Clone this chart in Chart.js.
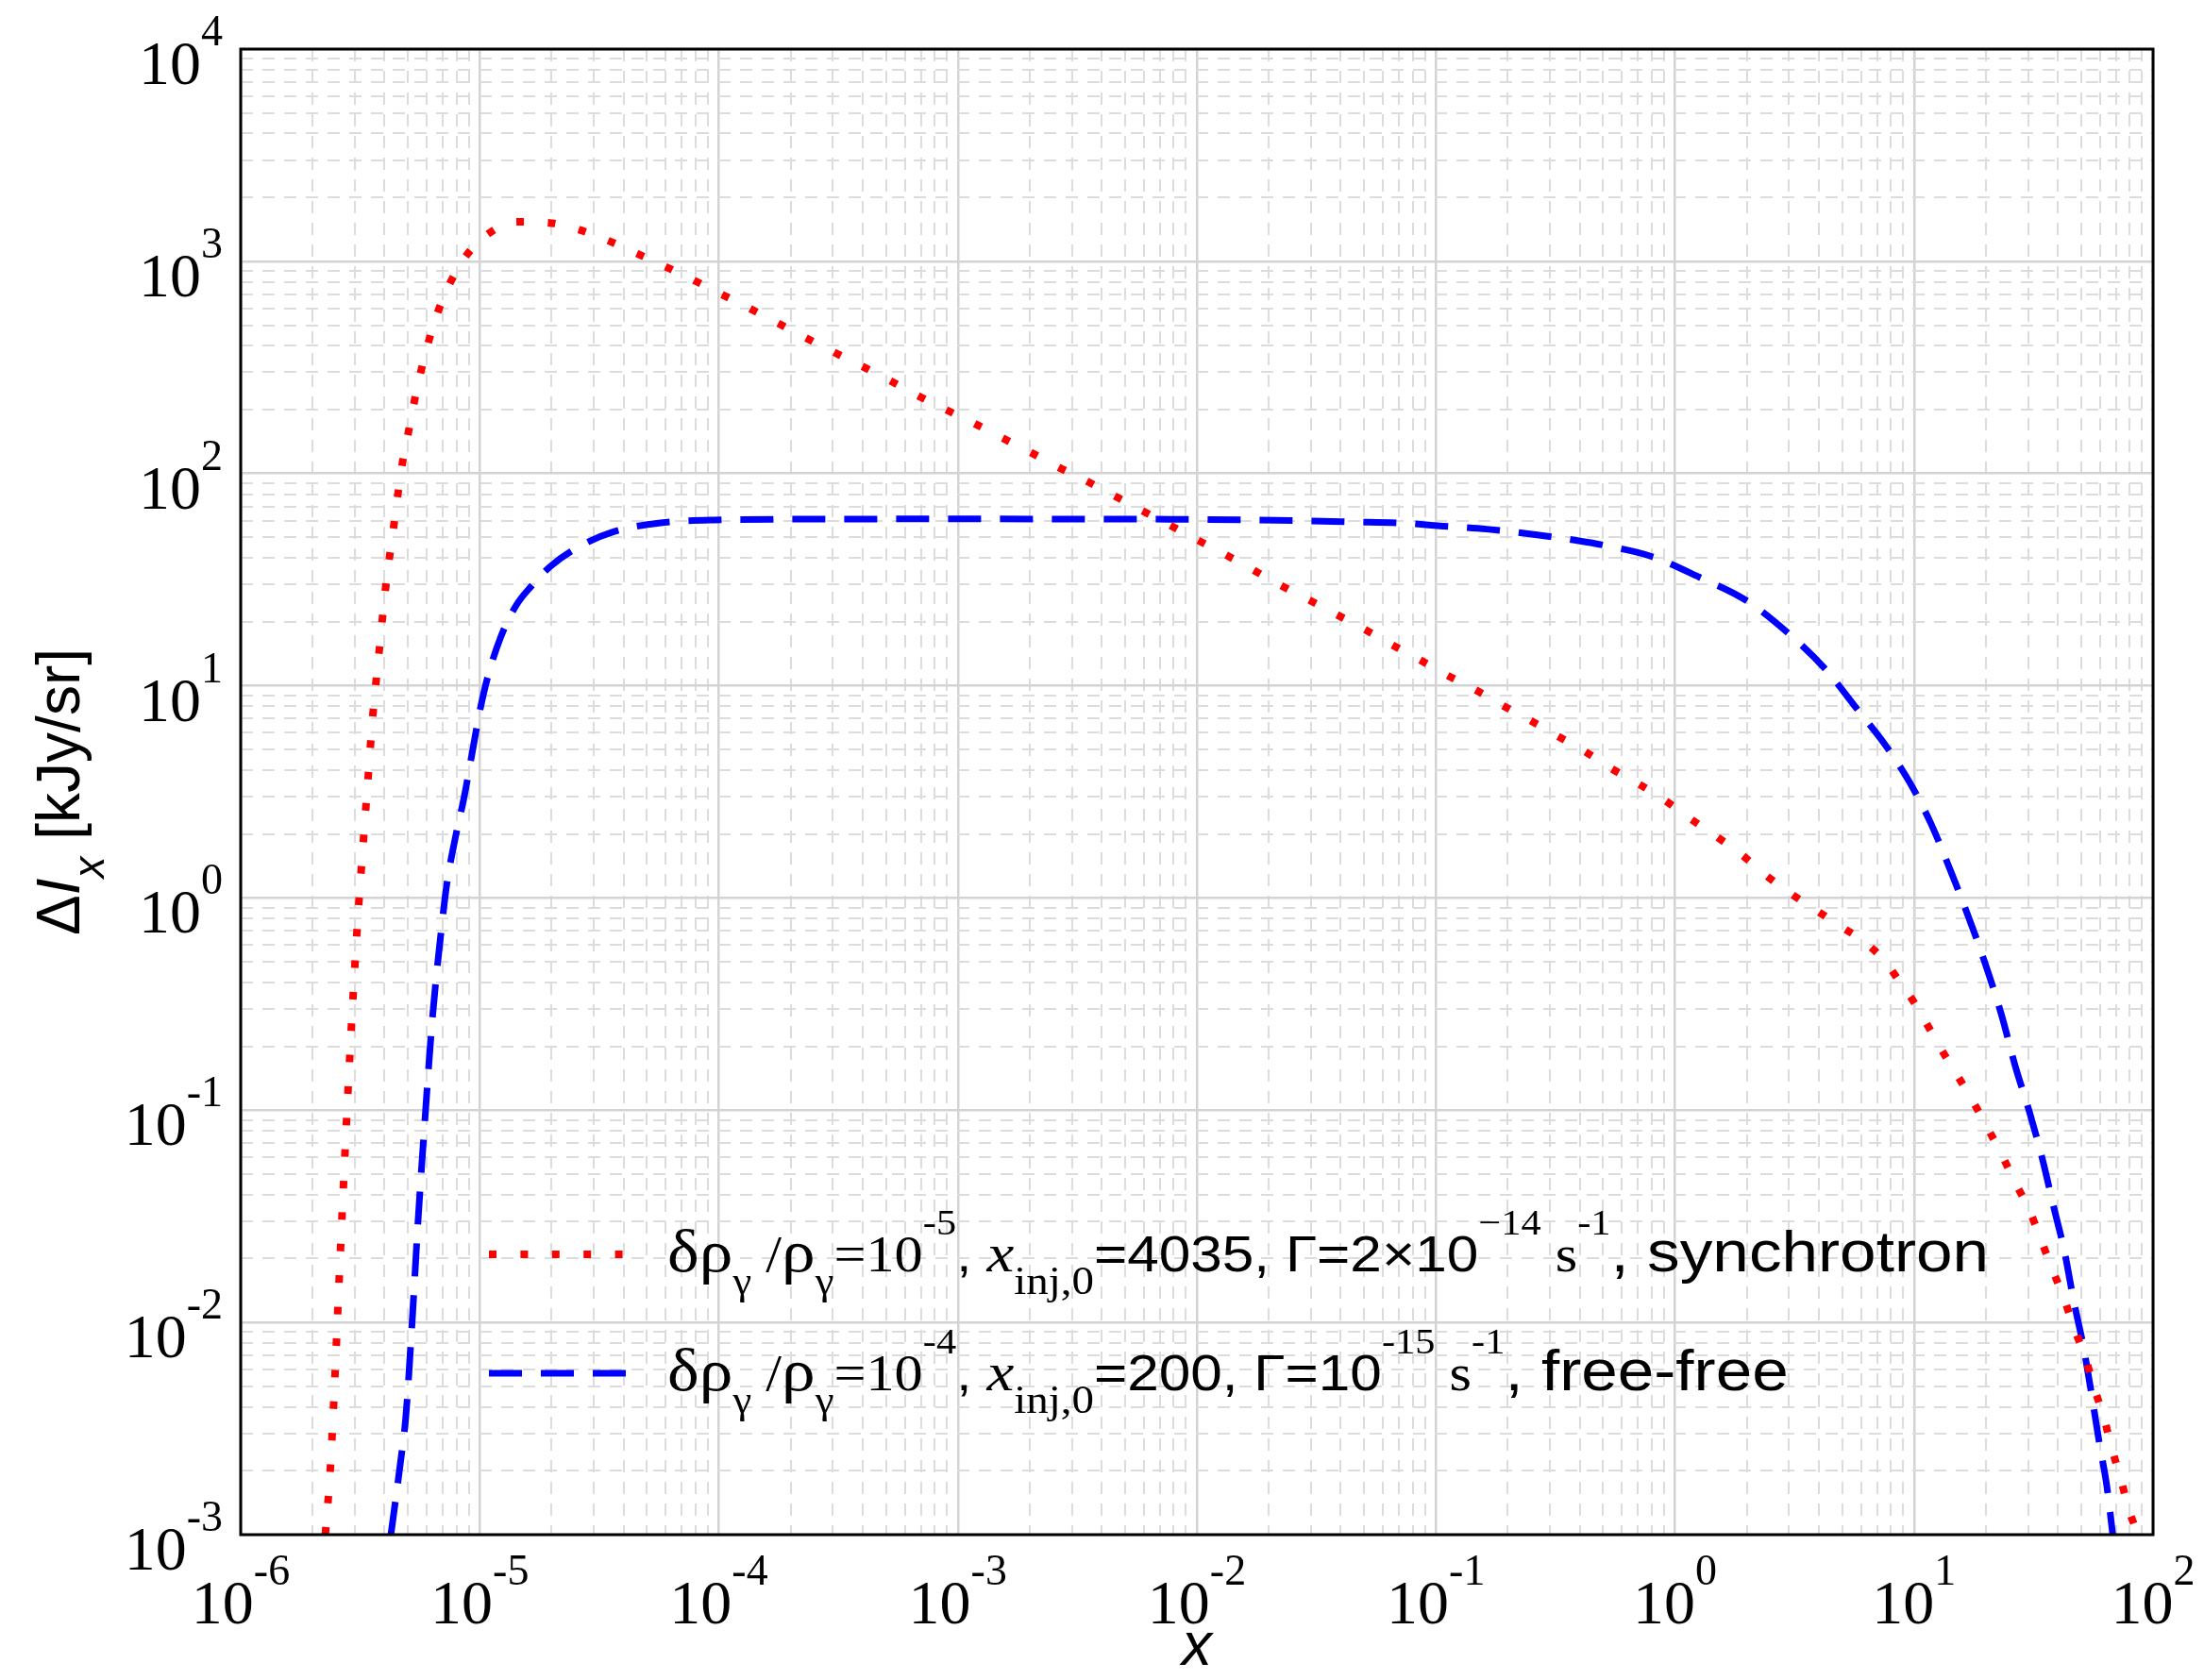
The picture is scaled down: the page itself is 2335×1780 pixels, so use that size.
<!DOCTYPE html>
<html>
<head>
<meta charset="utf-8">
<script src="https://cdn.jsdelivr.net/npm/chart.js@4.4.1/dist/chart.umd.min.js"></script>
<style>
  body { margin: 0; background: #fff; }
  canvas { display: block; }
</style>
</head>
<body>
<canvas id="c" width="2335" height="1780"></canvas>
<script>
// synchrotron curve (red, dotted)
const synchX = [2.26e-6, 2.37e-6, 2.48e-6, 2.58e-6, 2.69e-6, 2.81e-6, 2.95e-6, 3.12e-6, 3.26e-6, 3.41e-6,
  3.57e-6, 3.79e-6, 4.03e-6, 4.36e-6, 4.73e-6, 5.01e-6, 5.30e-6, 5.66e-6, 6.10e-6, 6.68e-6,
  7.50e-6, 8.73e-6, 1.08e-5, 1.43e-5, 1.93e-5, 2.60e-5, 3.44e-5, 4.55e-5, 5.98e-5, 7.85e-5,
  1.03e-4, 1.355e-4, 1.75e-4, 2.29e-4, 3.02e-4, 3.96e-4, 5.18e-4, 6.79e-4, 8.91e-4, 1.175e-3,
  1.52e-3, 2.01e-3, 2.64e-3, 3.44e-3, 4.50e-3, 5.87e-3, 7.67e-3, 1.0e-2, 1.31e-2, 1.70e-2,
  2.22e-2, 2.92e-2, 3.83e-2, 5.00e-2, 6.55e-2, 8.51e-2, 0.110, 0.145, 0.189, 0.245,
  0.318, 0.418, 0.533, 0.695, 0.902, 1.15, 1.48, 1.90, 2.38, 3.01,
  3.85, 4.86, 6.14, 7.45, 8.73, 10.07, 11.5, 13.1, 14.9, 17.4,
  20.2, 23.2, 26.5, 30.3, 33.9, 37.8, 42.3, 46.6, 51.8, 56.6,
  62.1, 67.3, 73.3, 79.1, 86.5];
const synchY = [1.0e-3, 2.03e-3, 5.65e-3, 1.57e-2, 4.39e-2, 0.122, 0.340, 0.944, 1.86, 3.66,
  7.23, 14.3, 28.3, 55.7, 109, 153, 213, 299, 416, 577,
  787, 1054, 1343, 1535, 1521, 1409, 1253, 1089, 944, 815,
  698, 598, 514, 438, 374, 321, 275, 233, 200, 172,
  148, 126, 107, 92.5, 78.7, 67.1, 57.3, 48.8, 41.6, 35.4,
  29.9, 25.5, 21.7, 18.5, 15.6, 13.3, 11.3, 9.62, 8.11, 6.92,
  5.85, 4.92, 4.12, 3.48, 2.90, 2.38, 1.96, 1.60, 1.29, 1.06,
  0.883, 0.743, 0.625, 0.513, 0.402, 0.319, 0.247, 0.191, 0.151, 0.113,
  0.0834, 0.0622, 0.0457, 0.0340, 0.0247, 0.0179, 0.0131, 0.00948, 0.00697, 0.00495,
  0.00361, 0.00254, 0.00183, 0.00132, 0.0010];

// free-free curve (blue, dashed)
const freeX = [4.25e-6, 4.65e-6, 4.91e-6, 5.21e-6, 5.53e-6, 5.89e-6, 6.35e-6, 6.95e-6, 7.28e-6, 7.85e-6,
  8.59e-6, 9.27e-6, 1.0e-5, 1.08e-5, 1.22e-5, 1.42e-5, 1.65e-5, 1.98e-5, 2.60e-5, 3.63e-5,
  5.71e-5, 9.57e-5, 3.16e-4, 1e-3, 3.16e-3, 1e-2, 2.62e-2, 4.43e-2, 7.46e-2, 0.107,
  0.163, 0.261, 0.396, 0.506, 0.802, 1.27, 1.99, 2.94, 4.22, 5.83,
  7.53, 9.57, 11.8, 14.2, 16.9, 19.7, 23.2, 26.5, 30.5, 34.4,
  38.3, 42.6, 46.6, 51.1, 55.1, 59.4, 64.1, 67.9];
const freeY = [1.0e-3, 2.15e-3, 3.63e-3, 9.89e-3, 3.10e-2, 8.83e-2, 0.277, 0.755, 1.16, 1.85,
  2.96, 4.73, 7.57, 11.0, 16.8, 23.9, 29.6, 36.6, 45.2, 53.2,
  58.6, 60.4, 61.0, 61.1, 61.0, 60.8, 60.0, 59.2, 58.3, 56.5,
  54.7, 51.5, 48.2, 45.9, 40.6, 32.4, 25.2, 17.9, 12.1, 7.67,
  5.32, 3.52, 2.23, 1.35, 0.815, 0.504, 0.283, 0.162, 0.0970, 0.0593,
  0.0355, 0.0216, 0.0126, 0.00773, 0.00472, 0.00277, 0.00169, 0.00099];

// decade tick labels, shown as 10^exp
const xTickExp = [-6, -5, -4, -3, -2, -1, 0, 1, 2];
const yTickExp = [-3, -2, -1, 0, 1, 2, 3, 4];

const SERIF = '"Liberation Serif", "Times New Roman", serif';
const SANS = '"Liberation Sans", Arial, sans-serif';

// 1..9 x 10^n ticks so the grid has every minor line
function logTicks(scale) {
  const lo = Math.round(Math.log10(scale.min));
  const hi = Math.round(Math.log10(scale.max));
  const ticks = [];
  for (let e = lo; e <= hi; e++) {
    for (let k = 1; k <= 9; k++) {
      if (e === hi && k > 1) break;
      ticks.push({ value: k * Math.pow(10, e), major: k === 1 });
    }
  }
  scale.ticks = ticks;
}

const gridOpts = {
  drawTicks: false,
  color: c => (c.tick && c.tick.major) ? '#d3d3d3' : '#dcdcdc',
  lineWidth: c => (c.tick && c.tick.major) ? 2.5 : 2
};
const borderOpts = {
  display: false,
  dash: c => (c.tick && !c.tick.major) ? [13, 10] : []
};

function richWidth(ctx, segs) {
  let w = 0;
  segs.forEach(s => { ctx.font = s.f; w += ctx.measureText(s.t).width; });
  return w;
}
function drawRich(ctx, segs, x0, y0, sx) {
  let x = x0;
  segs.forEach(s => {
    ctx.font = s.f;
    ctx.save();
    ctx.translate(x, y0 + (s.dy || 0));
    ctx.scale(sx, 1);
    ctx.fillText(s.t, 0, 0);
    ctx.restore();
    x += ctx.measureText(s.t).width * sx;
  });
  return x;
}

function powSegs(exp) {
  return [
    { t: '10', f: '66px ' + SERIF },
    { t: String(exp), f: '46px ' + SERIF, dy: -41 }
  ];
}

const sub = 24, sup = -39;
const legendRows = [
  [
    { t: 'δρ', f: '64px ' + SERIF }, { t: 'γ', f: '40px ' + SERIF, dy: sub },
    { t: ' /', f: '54px ' + SERIF }, { t: 'ρ', f: '64px ' + SERIF }, { t: 'γ', f: '40px ' + SERIF, dy: sub },
    { t: '=10', f: '54px ' + SERIF }, { t: '-5', f: '38px ' + SERIF, dy: sup },
    { t: ', ', f: '52px ' + SANS }, { t: 'x', f: 'italic 58px ' + SERIF },
    { t: 'inj,0', f: '42px ' + SERIF, dy: sub },
    { t: '=4035, Γ=2×10', f: '54px ' + SANS }, { t: '−14', f: '38px ' + SERIF, dy: sup },
    { t: ' s', f: '54px ' + SERIF }, { t: '-1', f: '38px ' + SERIF, dy: sup },
    { t: ', synchrotron', f: '62px ' + SANS }
  ],
  [
    { t: 'δρ', f: '64px ' + SERIF }, { t: 'γ', f: '40px ' + SERIF, dy: sub },
    { t: ' /', f: '54px ' + SERIF }, { t: 'ρ', f: '64px ' + SERIF }, { t: 'γ', f: '40px ' + SERIF, dy: sub },
    { t: '=10', f: '54px ' + SERIF }, { t: '-4', f: '38px ' + SERIF, dy: sup },
    { t: ', ', f: '52px ' + SANS }, { t: 'x', f: 'italic 58px ' + SERIF },
    { t: 'inj,0', f: '42px ' + SERIF, dy: sub },
    { t: '=200, Γ=10', f: '54px ' + SANS }, { t: '-15', f: '38px ' + SERIF, dy: sup },
    { t: ' s', f: '54px ' + SERIF }, { t: '-1', f: '38px ' + SERIF, dy: sup },
    { t: ', free-free', f: '62px ' + SANS }
  ]
];

const paperText = {
  id: 'paperText',
  afterDraw(chart) {
    const { ctx, chartArea: a, scales } = chart;
    ctx.save();
    ctx.fillStyle = '#000';
    ctx.textBaseline = 'alphabetic';

    // frame
    ctx.strokeStyle = '#000';
    ctx.lineWidth = 3;
    ctx.strokeRect(a.left, a.top, a.right - a.left, a.bottom - a.top);

    // x tick labels
    xTickExp.forEach(e => {
      const px = scales.x.getPixelForValue(Math.pow(10, e));
      const segs = powSegs(e);
      drawRich(ctx, segs, px - richWidth(ctx, segs) / 2, a.bottom + 94, 1);
    });
    // y tick labels
    yTickExp.forEach(e => {
      const py = scales.y.getPixelForValue(Math.pow(10, e));
      const segs = powSegs(e);
      drawRich(ctx, segs, a.left - 19 - richWidth(ctx, segs), py + 37, 1);
    });

    // x title
    ctx.font = 'italic 64px ' + SANS;
    ctx.textAlign = 'center';
    ctx.fillText('x', (a.left + a.right) / 2, 1764);
    ctx.textAlign = 'left';

    // y title
    const ySegs = [
      { t: 'Δ', f: '64px ' + SANS }, { t: 'I', f: 'italic 64px ' + SANS },
      { t: 'x', f: 'italic 46px ' + SANS, dy: 26 }, { t: ' [kJy/sr]', f: '64px ' + SANS }
    ];
    ctx.save();
    ctx.translate(84, (a.top + a.bottom) / 2);
    ctx.rotate(-Math.PI / 2);
    drawRich(ctx, ySegs, -richWidth(ctx, ySegs) / 2, 0, 1);
    ctx.restore();

    // legend
    const rowY = [1329, 1455];
    const sx = 1400 / richWidth(ctx, legendRows[0]);
    chart.data.datasets.forEach((ds, i) => {
      ctx.save();
      ctx.strokeStyle = ds.borderColor;
      ctx.lineWidth = ds.borderWidth;
      ctx.setLineDash(ds.borderDash);
      ctx.beginPath();
      ctx.moveTo(518, rowY[i]);
      ctx.lineTo(664, rowY[i]);
      ctx.stroke();
      ctx.restore();
      drawRich(ctx, legendRows[i], 707, rowY[i] + 18, sx);
    });
    ctx.restore();
  }
};

new Chart(document.getElementById('c'), {
  type: 'line',
  data: {
    datasets: [
      {
        label: 'synchrotron',
        data: synchX.map((v, i) => ({ x: v, y: synchY[i] })),
        borderColor: '#ff0000',
        borderWidth: 8,
        borderDash: [8, 25.4],
        pointRadius: 0,
        fill: false,
        cubicInterpolationMode: 'monotone',
        clip: 0
      },
      {
        label: 'free-free',
        data: freeX.map((v, i) => ({ x: v, y: freeY[i] })),
        borderColor: '#0000ff',
        borderWidth: 7,
        borderDash: [35, 20],
        pointRadius: 0,
        fill: false,
        cubicInterpolationMode: 'monotone',
        clip: 0
      }
    ]
  },
  options: {
    responsive: false,
    animation: false,
    devicePixelRatio: 1,
    layout: { padding: { left: 255, top: 52, right: 54, bottom: 154 } },
    plugins: { legend: { display: false }, tooltip: { enabled: false } },
    scales: {
      x: {
        type: 'logarithmic', min: 1e-6, max: 1e2,
        afterBuildTicks: logTicks,
        ticks: { display: false, autoSkip: false },
        grid: gridOpts,
        border: borderOpts
      },
      y: {
        type: 'logarithmic', min: 1e-3, max: 1e4,
        afterBuildTicks: logTicks,
        ticks: { display: false, autoSkip: false },
        grid: gridOpts,
        border: borderOpts
      }
    }
  },
  plugins: [paperText]
});
</script>
</body>
</html>
